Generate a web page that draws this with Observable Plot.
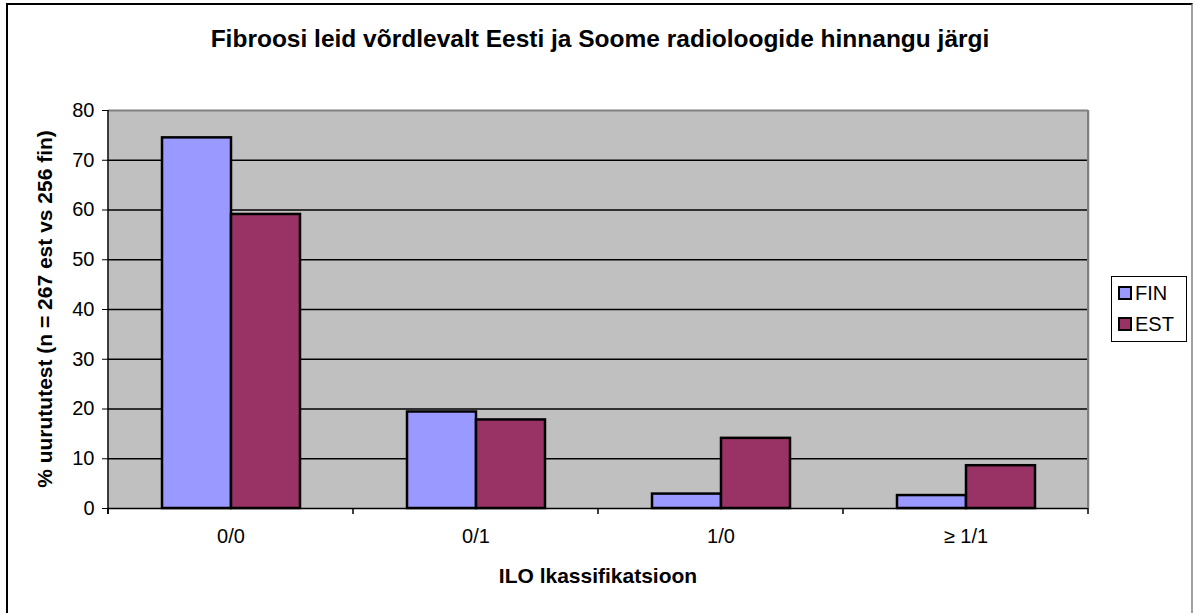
<!DOCTYPE html>
<html>
<head>
<meta charset="utf-8">
<script src="https://cdn.jsdelivr.net/npm/d3@7"></script>
<script src="https://cdn.jsdelivr.net/npm/@observablehq/plot@0.6"></script>
<style>
  html, body { margin: 0; padding: 0; background: #fff; }
  #wrap { position: relative; width: 1194px; height: 613px; overflow: hidden; font-family: "Liberation Sans", Arial, sans-serif; }
  #border { position: absolute; left: 6px; top: 3px; width: 1183px; height: 640px; border-left: 2px solid #000; border-top: 2px solid #000; border-right: 2px solid #a0a0a0; }
  #chart { position: absolute; left: 0; top: 0; }
  #title { position: absolute; left: 0; width: 1200px; top: 25px; text-align: center; font-weight: bold; font-size: 24.5px; color: #000; }
  #xlabel { position: absolute; left: 0; width: 1196px; top: 564px; text-align: center; font-weight: bold; font-size: 21px; }
  #ylabel { position: absolute; left: 45px; top: 309px; transform: translate(-50%, -50%) rotate(-90deg); white-space: nowrap; font-weight: bold; font-size: 21px; }
  #legend { position: absolute; left: 1111px; top: 276px; width: 74px; height: 64px; border: 1px solid #000; background: #fff; }
  .li { position: absolute; left: 6px; font-size: 20px; line-height: 20px; }
  .sw { display: inline-block; width: 10px; height: 10px; border: 2px solid #000; margin-right: 3px; vertical-align: 0px; }
</style>
</head>
<body>
<div id="wrap">
  <div id="border"></div>
  <div id="chart"></div>
  <div id="title"></div>
  <div id="xlabel"></div>
  <div id="ylabel"></div>
  <div id="legend"></div>
</div>
<script>
const titleText = "Fibroosi leid võrdlevalt Eesti ja Soome radioloogide hinnangu järgi";
const xLabel = "ILO lkassifikatsioon";
const yLabel = "% uurututest (n = 267 est vs 256 fin)";
const categories = ["0/0", "0/1", "1/0", "≥ 1/1"];
const seriesNames = ["FIN", "EST"];
const finValues = [74.5, 19.4, 2.9, 2.6];
const estValues = [59.1, 17.8, 14.1, 8.6];
const yTicks = [0, 10, 20, 30, 40, 50, 60, 70, 80];
const seriesColors = ["#9999FF", "#993366"];

const data = categories.flatMap((c, i) => [
  {cat: c, series: seriesNames[0], value: finValues[i]},
  {cat: c, series: seriesNames[1], value: estValues[i]}
]);

const W = 1194, H = 613;
const mL = 107, mR = 105, mT = 110, mB = 105;

const plot = Plot.plot({
  width: W, height: H,
  marginLeft: mL, marginRight: mR, marginTop: mT, marginBottom: mB,
  style: {fontFamily: "'Liberation Sans', Arial, sans-serif", fontSize: "20px", color: "#000", background: "transparent", overflow: "visible"},
  fx: {domain: categories, padding: 0, label: null, tickSize: 0, tickPadding: 20},
  x: {domain: seriesNames, paddingInner: 0, paddingOuter: 0.754, axis: null},
  y: {domain: [0, 80], ticks: yTicks, tickSize: 6, tickPadding: 8, label: null, tickFormat: d => String(d)},
  color: {domain: seriesNames, range: seriesColors},
  marks: [
    Plot.frame({fill: "#C0C0C0", stroke: null, insetRight: -1}),
    Plot.ruleY(yTicks.filter(v => v > 0 && v < 80), {stroke: "#000", strokeWidth: 1.3}),
    Plot.ruleY([80], {stroke: "#808080", strokeWidth: 2}),
    Plot.barY(data, {fx: "cat", x: "series", y: "value", fill: "series", stroke: "#000", strokeWidth: 2.5}),
    Plot.ruleY([0], {stroke: "#000", strokeWidth: 1.5})
  ]
});
document.getElementById("chart").appendChild(plot);

// axis decorations: left axis line, right edge, category boundary ticks
const svg = d3.select(plot);
const fx = plot.scale("fx");
const y = plot.scale("y");
const y0 = y.apply(0), y80 = y.apply(80);
const bounds = categories.map(c => fx.apply(c));
bounds.push(fx.apply(categories[categories.length - 1]) + fx.bandwidth);
const g = svg.append("g");
g.selectAll("line.b").data(bounds).join("line")
  .attr("x1", d => d).attr("x2", d => d)
  .attr("y1", y0).attr("y2", y0 + 6)
  .attr("stroke", "#000").attr("stroke-width", 1.5);
g.append("line").attr("x1", bounds[0]).attr("x2", bounds[0]).attr("y1", y80).attr("y2", y0 + 6)
  .attr("stroke", "#000").attr("stroke-width", 1.5);
g.append("line").attr("x1", bounds[bounds.length - 1]).attr("x2", bounds[bounds.length - 1]).attr("y1", y80).attr("y2", y0)
  .attr("stroke", "#808080").attr("stroke-width", 2);

document.getElementById("title").textContent = titleText;
document.getElementById("xlabel").textContent = xLabel;
document.getElementById("ylabel").textContent = yLabel;
const legend = document.getElementById("legend");
seriesNames.forEach((s, i) => {
  const d = document.createElement("div");
  d.className = "li";
  d.style.top = (6 + i * 31) + "px";
  d.innerHTML = `<span class="sw" style="background:${seriesColors[i]}"></span>${s}`;
  legend.appendChild(d);
});
</script>
</body>
</html>
